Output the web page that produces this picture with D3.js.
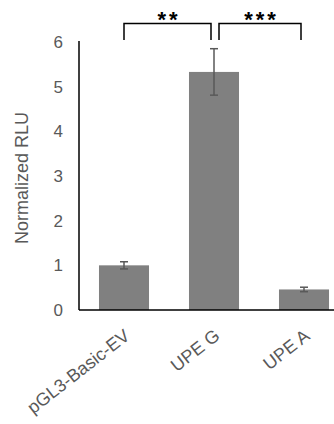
<!DOCTYPE html>
<html><head><meta charset="utf-8">
<script src="https://cdn.jsdelivr.net/npm/d3@7"></script>
<style>body{margin:0;background:#fff}svg{display:block}</style>
</head><body>
<script>
const categories = ["pGL3-Basic-EV", "UPE G", "UPE A"];
const values = [1.0, 5.33, 0.46];
const errors = [0.08, 0.52, 0.05];
const yTicks = [0, 1, 2, 3, 4, 5, 6];
const sigLabels = ["**", "***"];

const W = 334, H = 424;
const svg = d3.select("body").append("svg").attr("width", W).attr("height", H);
const x = d3.scaleBand().domain(categories).range([79, 349]).paddingInner(0.444).paddingOuter(0.222);
const y = d3.scaleLinear().domain([0, 6]).range([310, 42]);
const font = "'Liberation Sans', Arial, sans-serif";

// bars
svg.selectAll("rect.bar").data(categories).join("rect")
  .attr("x", d => x(d)).attr("width", x.bandwidth())
  .attr("y", (d, i) => y(values[i])).attr("height", (d, i) => y(0) - y(values[i]))
  .attr("fill", "#808080");

// error bars
const eg = svg.append("g").attr("stroke", "#595959").attr("stroke-width", 1.5);
categories.forEach((c, i) => {
  const cx = x(c) + x.bandwidth() / 2;
  const t = y(values[i] + errors[i]), b = y(values[i] - errors[i]);
  eg.append("line").attr("x1", cx).attr("x2", cx).attr("y1", t).attr("y2", b);
  eg.append("line").attr("x1", cx - 4).attr("x2", cx + 4).attr("y1", t).attr("y2", t);
  eg.append("line").attr("x1", cx - 4).attr("x2", cx + 4).attr("y1", b).attr("y2", b);
});

// y axis
const ya = svg.append("g").attr("transform", "translate(79,0)")
  .call(d3.axisLeft(y).tickValues(yTicks).tickSize(0).tickPadding(16).tickFormat(d3.format("d")));
ya.select(".domain").attr("stroke", "#000").attr("stroke-width", 1.5).attr("d", `M0,${y(6) - 1}V${y(0)}`);
ya.selectAll("text").attr("font-family", font).attr("font-size", 17).attr("fill", "#595959");

// x axis
const xa = svg.append("g").attr("transform", `translate(0,${y(0)})`)
  .call(d3.axisBottom(x).tickSize(0).tickFormat(""));
xa.select(".domain").attr("stroke", "#000").attr("stroke-width", 1.5).attr("d", `M79,0H349`);
categories.forEach(c => {
  const cx = x(c) + x.bandwidth() / 2;
  svg.append("text").attr("transform", `translate(${cx + 7},${y(0) + 28}) rotate(-38)`)
    .attr("text-anchor", "end")
    .attr("font-family", font).attr("font-size", 18).attr("fill", "#595959").text(c);
});

// y label
svg.append("text").attr("transform", `translate(28,${(y(0) + y(6)) / 2 + 2}) rotate(-90)`)
  .attr("text-anchor", "middle").attr("font-family", font).attr("font-size", 18)
  .attr("fill", "#595959").text("Normalized RLU");

// significance brackets
const c0 = x(categories[0]) + x.bandwidth() / 2;
const c1 = x(categories[1]) + x.bandwidth() / 2;
const c2 = x(categories[2]) + x.bandwidth() / 2;
const brackets = [[c0, c1 - 3], [c1 + 5, c2 - 3]];
brackets.forEach((b, i) => {
  svg.append("path").attr("d", `M${b[0]},40V23.5H${b[1]}V40`)
    .attr("fill", "none").attr("stroke", "#000").attr("stroke-width", 1.5);
  svg.append("text").attr("x", (b[0] + b[1]) / 2 + 1.5).attr("y", 27)
    .attr("text-anchor", "middle").attr("font-family", font).attr("font-size", 22)
    .attr("font-weight", "bold").attr("letter-spacing", 3).attr("fill", "#000").text(sigLabels[i]);
});
</script>
</body></html>
